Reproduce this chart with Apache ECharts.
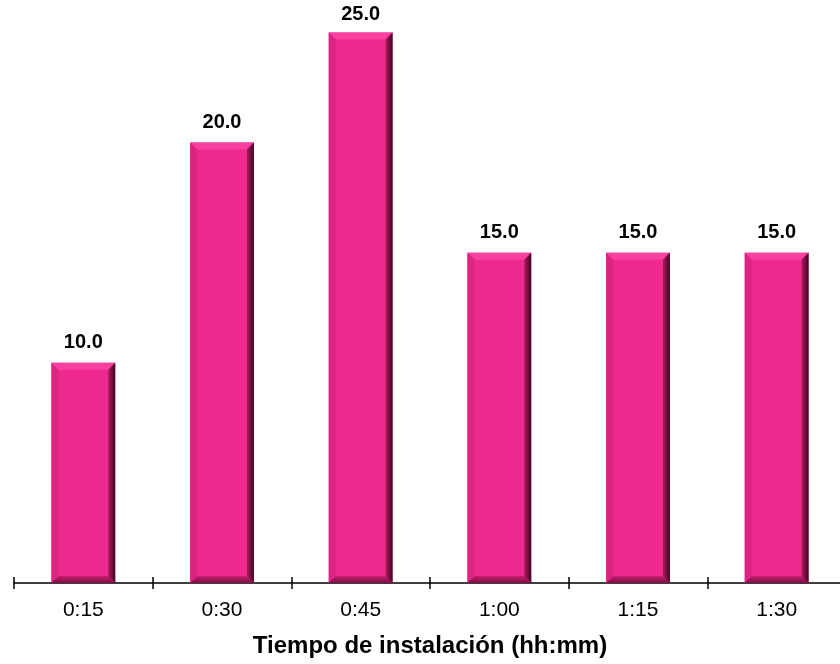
<!DOCTYPE html>
<html>
<head>
<meta charset="utf-8">
<script src="https://cdn.jsdelivr.net/npm/echarts@6/dist/echarts.min.js"></script>
<style>html,body{margin:0;padding:0;background:#fff}#c{width:840px;height:664px}</style>
</head>
<body>
<div id="c"></div>
<script>
const categories = ['0:15', '0:30', '0:45', '1:00', '1:15', '1:30'];
const values = [10.0, 20.0, 25.0, 15.0, 15.0, 15.0];
const axisTitle = 'Tiempo de instalación (hh:mm)';

const FONT = '"Liberation Sans", Arial, sans-serif';
const chart = echarts.init(document.getElementById('c'), null, {renderer: 'canvas'});

function renderItem(params, api) {
  const idx = api.value(0);
  const v = api.value(1);
  const topPt = api.coord([idx, v]);
  const basePt = api.coord([idx, 0]);
  const bw = api.size([1, 0])[0] * 0.46;
  const l = topPt[0] - bw / 2, r = topPt[0] + bw / 2;
  const t = topPt[1], b = basePt[1];
  const e = 7;
  return {
    type: 'group',
    children: [
      {type: 'rect', shape: {x: l, y: t, width: r - l, height: b - t}, style: {fill: '#EF2A8F'}},
      {type: 'polygon', shape: {points: [[l, t], [r, t], [r - e, t + e], [l + e, t + e]]}, style: {fill: '#F7409F'}},
      {type: 'polygon', shape: {points: [[l, t], [l + e, t + e], [l + e, b - e], [l, b]]}, style: {fill: '#DC2483'}},
      {type: 'polygon', shape: {points: [[l, b], [r, b], [r - e, b - e], [l + e, b - e]]},
        style: {fill: new echarts.graphic.LinearGradient(0, 0, 0, 1, [
          {offset: 0, color: '#C81D72'}, {offset: 1, color: '#7E0E45'}])}},
      {type: 'polygon', shape: {points: [[r, t], [r, b], [r - e, b - e], [r - e, t + e]]},
        style: {fill: new echarts.graphic.LinearGradient(0, 0, 1, 0, [
          {offset: 0, color: '#B0185F'}, {offset: 1, color: '#3E0622'}])}},
      {type: 'text', style: {text: v.toFixed(1), x: topPt[0], y: Math.max(t - 20, 14), align: 'center', verticalAlign: 'middle',
        font: 'bold 20px ' + FONT, fill: '#000'}}
    ]
  };
}

chart.setOption({
  animation: false,
  backgroundColor: '#fff',
  grid: {left: 14, right: -6, top: 32.5, bottom: 81, containLabel: false, outerBoundsMode: 'none'},
  xAxis: [{
    type: 'category',
    data: categories,
    boundaryGap: true,
    axisLine: {show: true, lineStyle: {color: '#000', width: 1.5}},
    axisTick: {show: true, alignWithLabel: false, length: 6, lineStyle: {color: '#000', width: 1.5}},
    axisLabel: {color: '#000', fontSize: 21, fontFamily: FONT, margin: 17},
    name: axisTitle,
    nameLocation: 'middle',
    nameGap: 51,
    nameTextStyle: {color: '#000', fontSize: 24, fontWeight: 'bold', fontFamily: FONT},
    splitLine: {show: false}
  }, {
    type: 'category',
    data: categories,
    position: 'bottom',
    boundaryGap: true,
    axisLine: {show: false},
    axisTick: {show: true, inside: true, length: 6, lineStyle: {color: '#000', width: 1.5}},
    axisLabel: {show: false},
    splitLine: {show: false}
  }],
  yAxis: {type: 'value', min: 0, max: 25, show: false, splitLine: {show: false}},
  series: [{
    type: 'custom',
    renderItem: renderItem,
    xAxisIndex: 0,
    data: values.map((v, i) => [i, v]),
    encode: {x: 0, y: 1}
  }]
});
</script>
</body>
</html>
